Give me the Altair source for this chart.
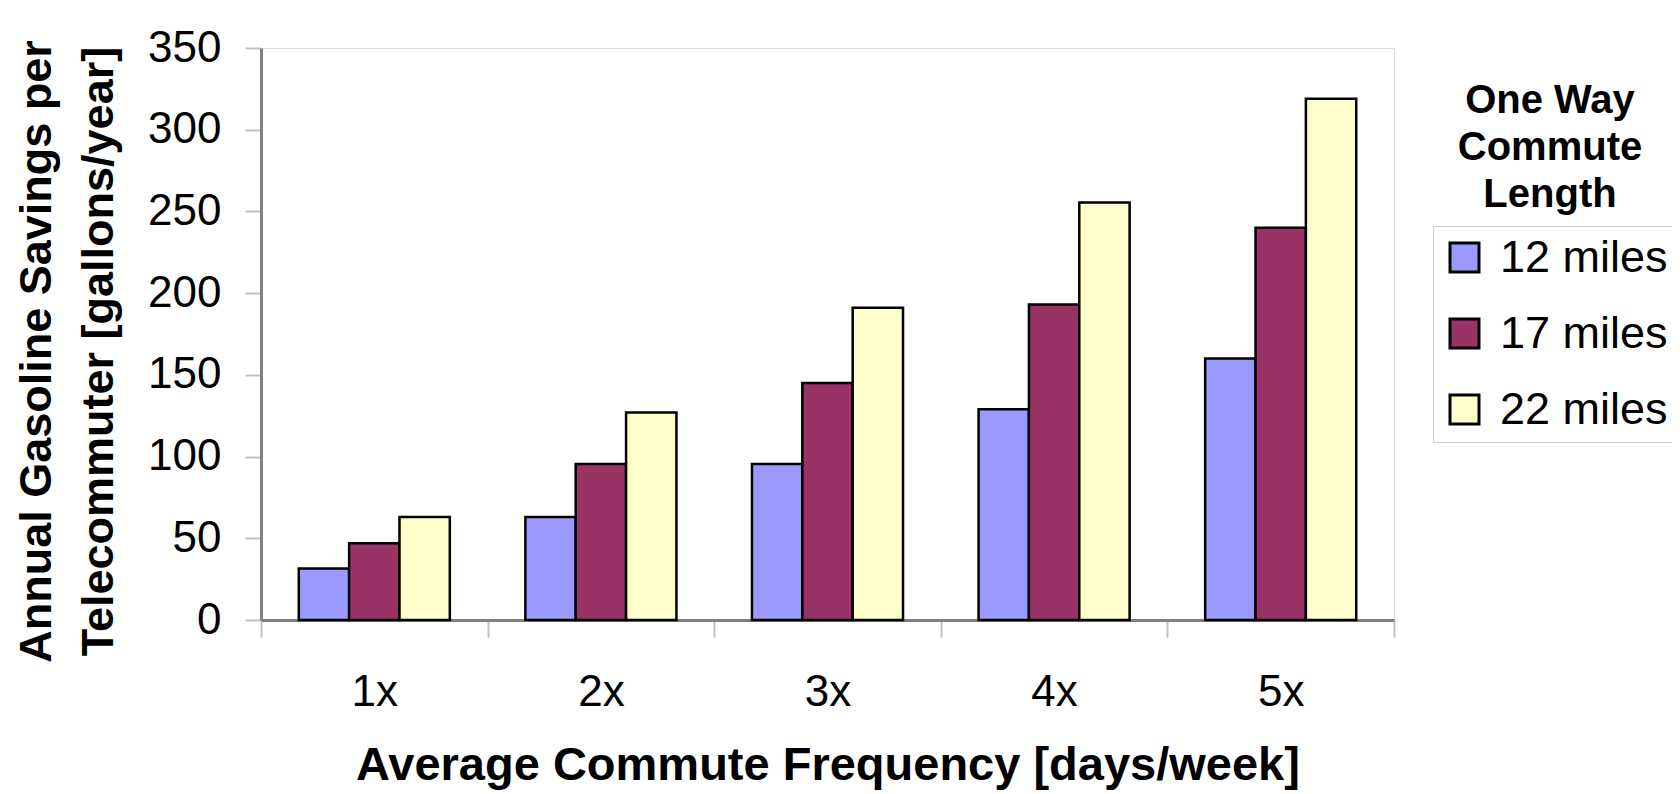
import altair as alt
import pandas as pd

# ---- data ----
frequencies = ["1x", "2x", "3x", "4x", "5x"]
lengths = ["12 miles", "17 miles", "22 miles"]
miles_12 = [31.5, 63, 95.5, 129, 160]
miles_17 = [47, 95.5, 145, 193, 240]
miles_22 = [63, 127, 191, 255.5, 319]
colors = ["#9999FF", "#993366", "#FFFFCC"]
y_ticks = [0, 50, 100, 150, 200, 250, 300, 350]
y_title = ["Annual Gasoline Savings per", "Telecommuter [gallons/year]"]
x_title = "Average Commute Frequency [days/week]"
legend_title = ["One Way", "Commute", "Length"]

rows = []
for series, vals in zip(lengths, [miles_12, miles_17, miles_22]):
    for f, v in zip(frequencies, vals):
        rows.append({"freq": f, "length": series, "value": v})
df = pd.DataFrame(rows)

FONT = "Liberation Sans"
W, H = 1133, 572

bars = alt.Chart(df).mark_bar(stroke="black", strokeWidth=2.5).encode(
    x=alt.X(
        "freq:N", sort=frequencies,
        scale=alt.Scale(paddingInner=0, paddingOuter=0),
        axis=alt.Axis(
            title=x_title, labelAngle=0, tickBand="extent", tickSize=17,
            tickColor="#c0c0c0", tickWidth=2, domainColor="#808080", domainWidth=3,
            labelFont=FONT, labelFontSize=44, labelColor="black",
            labelBaseline="alphabetic", labelPadding=68,
            titleFont=FONT, titleFontSize=47, titleFontWeight="bold", titleColor="black",
            titleBaseline="alphabetic", titleY=159, titleX=W / 2, titleAlign="center",
        ),
    ),
    xOffset=alt.XOffset("length:N", sort=lengths,
                        scale=alt.Scale(paddingInner=0, paddingOuter=0.75)),
    y=alt.Y(
        "value:Q",
        scale=alt.Scale(domain=[0, 350], nice=False),
        axis=alt.Axis(
            values=y_ticks, grid=False, title=y_title, tickSize=16,
            tickColor="#c0c0c0", tickWidth=2, domainColor="#808080", domainWidth=3,
            labelFont=FONT, labelFontSize=44, labelColor="black", labelPadding=24,
            titleFont=FONT, titleFontSize=45, titleFontWeight="bold", titleColor="black",
            titleBaseline="alphabetic", titleAlign="center", titleLineHeight=62,
            titleX=-211, titleY=303,
        ),
    ),
    color=alt.Color(
        "length:N", sort=lengths,
        scale=alt.Scale(domain=lengths, range=colors),
        legend=alt.Legend(
            title=None, orient="none", legendX=1172, legendY=178,
            strokeColor="#d0d0d0", padding=9, rowPadding=30,
            symbolType="square", symbolSize=841, symbolStrokeColor="black",
            symbolStrokeWidth=3, symbolOpacity=1,
            labelFont=FONT, labelFontSize=45, labelColor="black", labelOffset=13,
            labelLimit=400,
        ),
    ),
)

title_layer = alt.Chart(pd.DataFrame({"t": [0]})).mark_text(
    text=legend_title, font=FONT, fontSize=40, fontWeight="bold",
    align="center", baseline="alphabetic", lineHeight=47, color="black",
).encode(x=alt.value(1289), y=alt.value(65))

chart = alt.layer(bars, title_layer).properties(
    width=W, height=H,
    padding={"left": 253, "top": 40, "right": 278, "bottom": 174},
    autosize="none",
).configure_view(
    stroke="#808080", strokeWidth=3
).configure_legend(
    strokeWidth=3
).configure(background="white")

chart.save("out.html", embed_options={"renderer": "svg", "actions": False})
